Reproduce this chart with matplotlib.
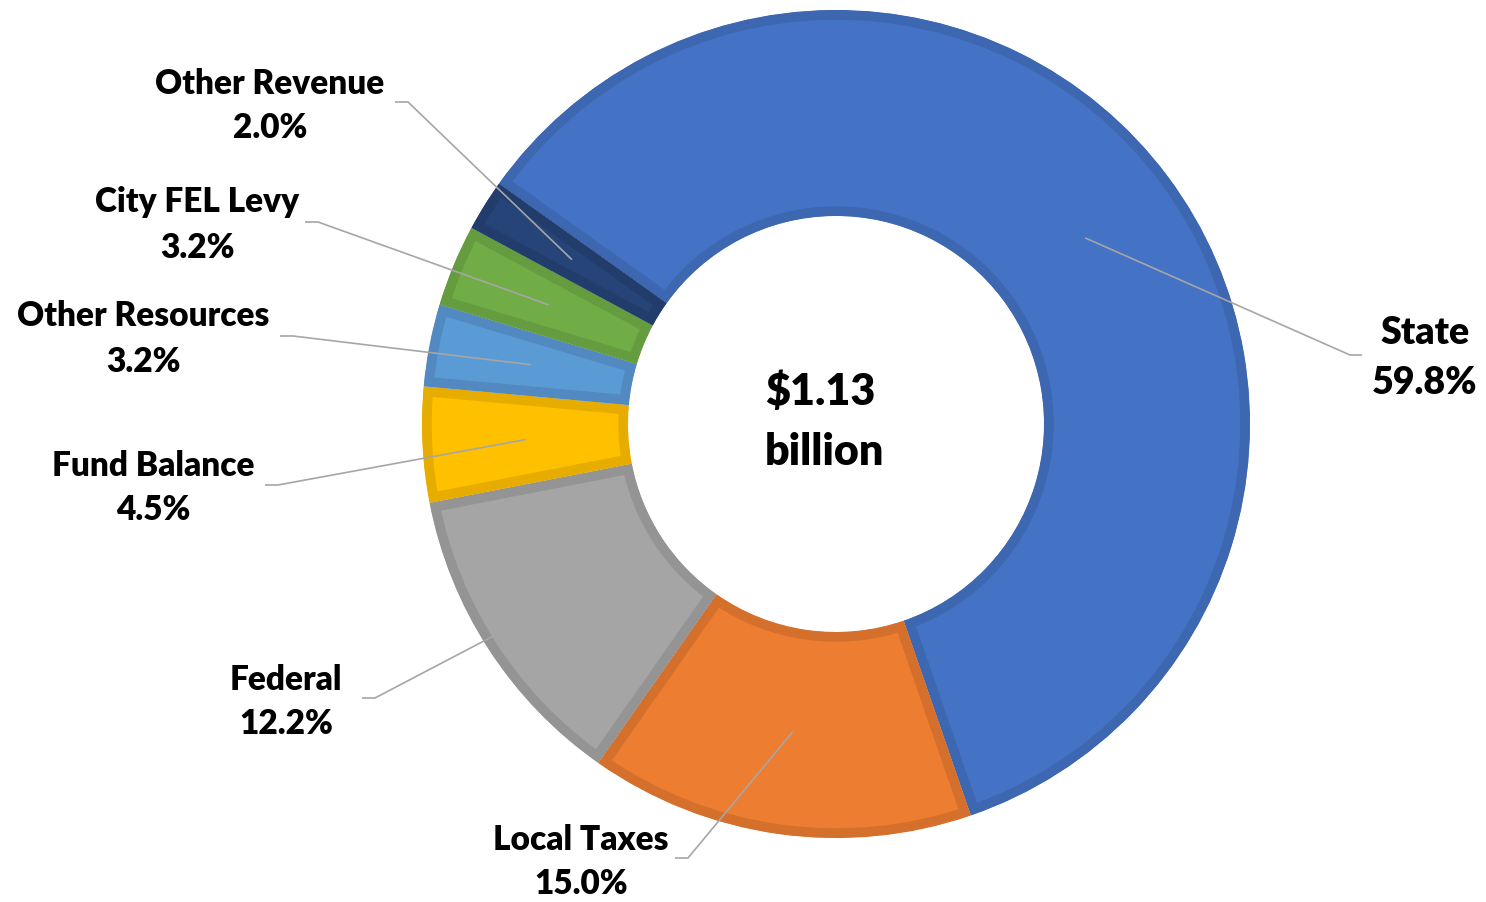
import numpy as np
import matplotlib.pyplot as plt

labels = ["State", "Local Taxes", "Federal", "Fund Balance",
          "Other Resources", "City FEL Levy", "Other Revenue"]
shares = [59.8, 15.0, 12.2, 4.5, 3.2, 3.2, 2.0]
center_lines = ["$1.13", "billion"]

colors = ["#4472C4", "#ED7D31", "#A5A5A5", "#FFC000",
          "#5B9BD5", "#70AD47", "#264478"]
edge_colors = ["#3E67B1", "#D4702C", "#949494", "#E6AC00",
               "#5289C0", "#659C40", "#223D6C"]

# layout in pixel coordinates, y measured from the top
cx, cy = 836, 424
r_out, ring = 414, 206
text_pos = [(1425, 358), (581, 862), (286, 702), (153, 488),
            (143, 339), (197, 225), (270, 106)]
# (x at text, x at elbow, y)
elbows = [(1362, 1350, 355), (675, 688, 858), (362, 375, 698),
          (265, 278, 485), (280, 293, 336), (305, 318, 222),
          (395, 408, 102)]
font_sizes = [27, 24, 24, 24, 24, 24, 24]

plt.rcParams['font.family'] = ['Lato', 'DejaVu Sans']

fig = plt.figure(figsize=(14.86, 9.02), dpi=100)
ax = fig.add_axes([0, 0, 1, 1])

wedges, _ = ax.pie(shares, startangle=-144.5, counterclock=True,
                   radius=r_out, center=(cx, cy), colors=colors,
                   wedgeprops=dict(width=ring, linewidth=14))
for w, ec in zip(wedges, edge_colors):
    # keep only the inner half of the edge, like the office-style border
    w.set_edgecolor(ec)
    w.set_clip_on(True)
    w.set_clip_path(w)

ax.set_xlim(0, 1486)
ax.set_ylim(902, 0)
ax.set_aspect('auto')
ax.axis('off')

r_mid = r_out - ring / 2
for i, w in enumerate(wedges):
    th = np.deg2rad((w.theta1 + w.theta2) / 2)
    px, py = cx + r_mid * np.cos(th), cy + r_mid * np.sin(th)
    x0, x1, ly = elbows[i]
    ax.plot([x0, x1, px], [ly, ly, py], color="#A6A6A6", lw=1.2,
            solid_capstyle='butt', zorder=3)

    tx, ty = text_pos[i]
    fs = font_sizes[i]
    gap = 22.5 * fs / 24
    ax.text(tx, ty - gap, labels[i], ha='center', va='center',
            fontsize=fs, fontweight='heavy', color='black')
    ax.text(tx, ty + gap, "{:.1f}%".format(shares[i]), ha='center',
            va='center', fontsize=fs, fontweight='heavy', color='black')

ax.text(765, 392, center_lines[0], ha='left', va='center',
        fontsize=31, fontweight='heavy')
ax.text(765, 452, center_lines[1], ha='left', va='center',
        fontsize=31, fontweight='heavy')

fig.savefig("out.png", dpi=100)
